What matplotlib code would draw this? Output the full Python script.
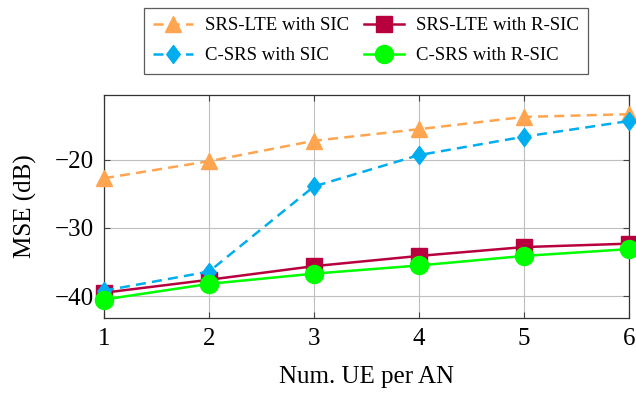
import matplotlib
matplotlib.use("Agg")
import matplotlib.pyplot as plt

plt.rcParams['font.family'] = ['Liberation Serif', 'DejaVu Serif']
plt.rcParams['mathtext.fontset'] = 'stix'

x = [1, 2, 3, 4, 5, 6]
srs_sic = [-22.7, -20.2, -17.2, -15.5, -13.7, -13.3]
csrs_sic = [-39.2, -36.4, -23.9, -19.3, -16.6, -14.3]
srs_rsic = [-39.5, -37.6, -35.6, -34.1, -32.8, -32.3]
csrs_rsic = [-40.5, -38.2, -36.7, -35.5, -34.1, -33.1]

c_orange = '#FFA54F'
c_blue = '#00AEEF'
c_red = '#B8003F'
c_green = '#00FF00'

diamond = [(0, 1), (0.75, 0), (0, -1), (-0.75, 0), (0, 1)]

fig = plt.figure(figsize=(6.36, 3.93), dpi=100)
ax = fig.add_axes([0.1635, 0.191, 0.8255, 0.567])

l1, = ax.plot(x, srs_sic, '--', color=c_orange, lw=1.8, marker='^', ms=12, dashes=(4, 2.5), label='SRS-LTE with SIC', clip_on=False, zorder=3)
l3, = ax.plot(x, srs_rsic, '-', color=c_red, lw=1.8, marker='s', ms=11, label='SRS-LTE with R-SIC', clip_on=False, zorder=4)
l2, = ax.plot(x, csrs_sic, '--', color=c_blue, lw=1.8, marker=diamond, ms=13, dashes=(4, 2.5), label='C-SRS with SIC', clip_on=False, zorder=5)
l4, = ax.plot(x, csrs_rsic, '-', color=c_green, lw=1.8, marker='o', ms=13, label='C-SRS with R-SIC', clip_on=False, zorder=6)

ax.set_xlim(1, 6)
ax.set_ylim(-43.2, -10.5)
ax.set_xticks(x)
ax.set_yticks([-40, -30, -20])
ax.set_yticklabels(['\u221240', '\u221230', '\u221220'])
ax.grid(True, color='#BFBFBF', lw=0.8)
ax.set_axisbelow(True)
ax.tick_params(direction='in', top=True, right=True, labelsize=18, length=4, color='#444444', pad=7)
for s in ax.spines.values():
    s.set_color('#333333')
    s.set_linewidth(0.9)
ax.set_xlabel('Num. UE per AN', fontsize=18, labelpad=12)
ax.set_ylabel('MSE (dB)', fontsize=18, labelpad=13)

leg = fig.legend(handles=[l1, l2, l3, l4], ncol=2, loc='upper center',
                 bbox_to_anchor=(0.5755, 0.98), fontsize=13.5, frameon=True,
                 fancybox=False, edgecolor='#333333', handlelength=2.13,
                 columnspacing=0.8, handletextpad=0.64, borderpad=0.5,
                 labelspacing=0.68, borderaxespad=0)
leg.get_frame().set_linewidth(0.9)

fig.savefig('out.png', dpi=100)
